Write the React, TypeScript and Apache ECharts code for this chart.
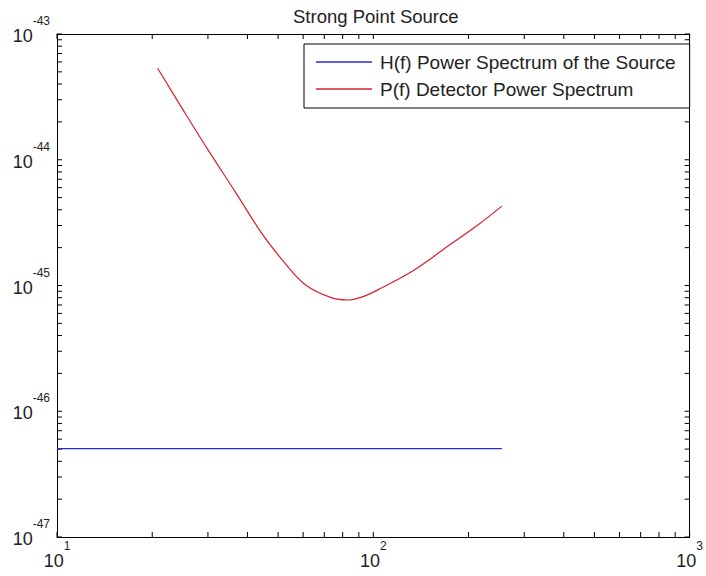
import React, { useEffect, useRef } from "react";
import * as echarts from "echarts";

// ---- data ----
const freqH = [10, 255];
const powerH = [5.04e-47, 5.04e-47];

const freqP = [20.8, 24.9, 30.2, 36.7, 44.4, 52.6, 60.8, 73.6, 83.2, 93.4, 105.6, 134.7, 171.4, 212.9, 255];
const powerP = [
  5.34e-44, 2.55e-44, 1.17e-44, 5.5e-45, 2.6e-45, 1.5e-45, 1.02e-45, 8.0e-46, 7.67e-46, 8.2e-46, 9.5e-46,
  1.33e-45, 2.04e-45, 3.0e-45, 4.28e-45,
];

const seriesNames = ["H(f) Power Spectrum of the Source", "P(f) Detector Power Spectrum"];
const titleText = "Strong Point Source";

const xExponents = [1, 2, 3];
const yExponents = [-47, -46, -45, -44, -43];
const minorMultipliers = [2, 3, 4, 5, 6, 7, 8, 9];

// ECharts' log scale loses precision near 1e-47, so the y values are expressed
// in units of 10^yUnitExp on the axis; labels convert back.
const yUnitExp = -47;

const FONT = "'Liberation Sans', Arial, Helvetica, sans-serif";

export default function App() {
  const ref = useRef<HTMLDivElement>(null);

  useEffect(() => {
    if (!ref.current) return;
    const chart = echarts.init(ref.current, null, { renderer: "svg" });

    const toY = (v: number) => v / Math.pow(10, yUnitExp);

    const xMin = Math.pow(10, xExponents[0]);
    const xMax = Math.pow(10, xExponents[xExponents.length - 1]);
    const yMin = Math.pow(10, yExponents[0] - yUnitExp);
    const yMax = Math.pow(10, yExponents[yExponents.length - 1] - yUnitExp);

    const xMajor = xExponents.map((e) => Math.pow(10, e));
    const xMinor: number[] = [];
    xExponents.slice(0, -1).forEach((e) => minorMultipliers.forEach((m) => xMinor.push(m * Math.pow(10, e))));
    const yMajor = yExponents.map((e) => Math.pow(10, e - yUnitExp));
    const yMinor: number[] = [];
    yExponents
      .slice(0, -1)
      .forEach((e) => minorMultipliers.forEach((m) => yMinor.push(m * Math.pow(10, e - yUnitExp))));

    const xLabel = (v: number) => `{b|10}{s|${Math.round(Math.log10(v))}}`;
    const yLabel = (v: number) => `{b|10}{s|${Math.round(Math.log10(v)) + yUnitExp}}`;
    const rich = {
      b: { fontSize: 18, lineHeight: 30, verticalAlign: "bottom", fontFamily: FONT, color: "#222" },
      s: { fontSize: 12, lineHeight: 12, verticalAlign: "top", fontFamily: FONT, color: "#222" },
    };

    const TICK = 5;
    const axisCommon = {
      type: "log",
      logBase: 10,
      axisLine: { show: true, lineStyle: { color: "#000", width: 1 } },
      axisTick: { show: false },
      splitLine: { show: false },
    };

    const option: any = {
      animation: false,
      backgroundColor: "#fff",
      title: {
        text: titleText,
        left: 288,
        top: 2,
        textStyle: { fontSize: 18.5, fontWeight: "normal", color: "#222", fontFamily: FONT },
      },
      grid: { left: 57, right: 12, top: 34, bottom: 39, containLabel: false },
      legend: {
        data: seriesNames,
        orient: "vertical",
        left: 304,
        top: 44,
        padding: [7, 14, 8, 12],
        itemGap: 5,
        itemWidth: 56,
        itemHeight: 1.5,
        icon: "rect",
        borderColor: "#000",
        borderWidth: 1,
        backgroundColor: "#fff",
        textStyle: { fontSize: 19, lineHeight: 22, color: "#222", fontFamily: FONT, padding: [0, 0, 0, 3] },
      },
      xAxis: [
        { ...axisCommon, min: xMin, max: xMax, position: "bottom", axisLabel: { margin: 3, formatter: xLabel, rich } },
        { ...axisCommon, min: xMin, max: xMax, position: "top", axisLabel: { show: false } },
      ],
      yAxis: [
        {
          ...axisCommon,
          min: yMin,
          max: yMax,
          position: "left",
          axisLabel: { margin: 7, padding: [0, 0, 8, 0], formatter: yLabel, rich },
        },
        { ...axisCommon, min: yMin, max: yMax, position: "right", axisLabel: { show: false } },
      ],
      series: [
        {
          name: seriesNames[0],
          type: "line",
          xAxisIndex: 0,
          yAxisIndex: 0,
          data: freqH.map((f, i) => [f, toY(powerH[i])]),
          showSymbol: false,
          symbol: "none",
          color: "#2a2ad0",
          lineStyle: { width: 1.2, color: "#2a2ad0" },
        },
        {
          name: seriesNames[1],
          type: "line",
          xAxisIndex: 0,
          yAxisIndex: 0,
          data: freqP.map((f, i) => [f, toY(powerP[i])]),
          showSymbol: false,
          symbol: "none",
          smooth: 0.35,
          color: "#d8202e",
          lineStyle: { width: 1.2, color: "#d8202e" },
        },
        {
          type: "custom",
          xAxisIndex: 0,
          yAxisIndex: 0,
          clip: false,
          silent: true,
          data: [[xMin, yMin]],
          renderItem: (params: any, api: any) => {
            const cs = params.coordSys;
            const left = cs.x;
            const right = cs.x + cs.width;
            const top = cs.y;
            const bottom = cs.y + cs.height;
            const children: any[] = [];
            const style = { stroke: "#000", lineWidth: 1 };
            xMajor.concat(xMinor).forEach((v) => {
              const px = api.coord([v, yMin])[0];
              children.push({ type: "line", shape: { x1: px, y1: bottom, x2: px, y2: bottom - TICK }, style });
              children.push({ type: "line", shape: { x1: px, y1: top, x2: px, y2: top + TICK }, style });
            });
            yMajor.concat(yMinor).forEach((v) => {
              const py = api.coord([xMin, v])[1];
              children.push({ type: "line", shape: { x1: left, y1: py, x2: left + TICK, y2: py }, style });
              children.push({ type: "line", shape: { x1: right, y1: py, x2: right - TICK, y2: py }, style });
            });
            return { type: "group", children };
          },
        },
      ],
    };

    chart.setOption(option);
    return () => chart.dispose();
  }, []);

  return (
    <div
      ref={ref}
      style={{ position: "absolute", left: 0, top: 0, width: 706, height: 576, background: "#fff" }}
    />
  );
}
